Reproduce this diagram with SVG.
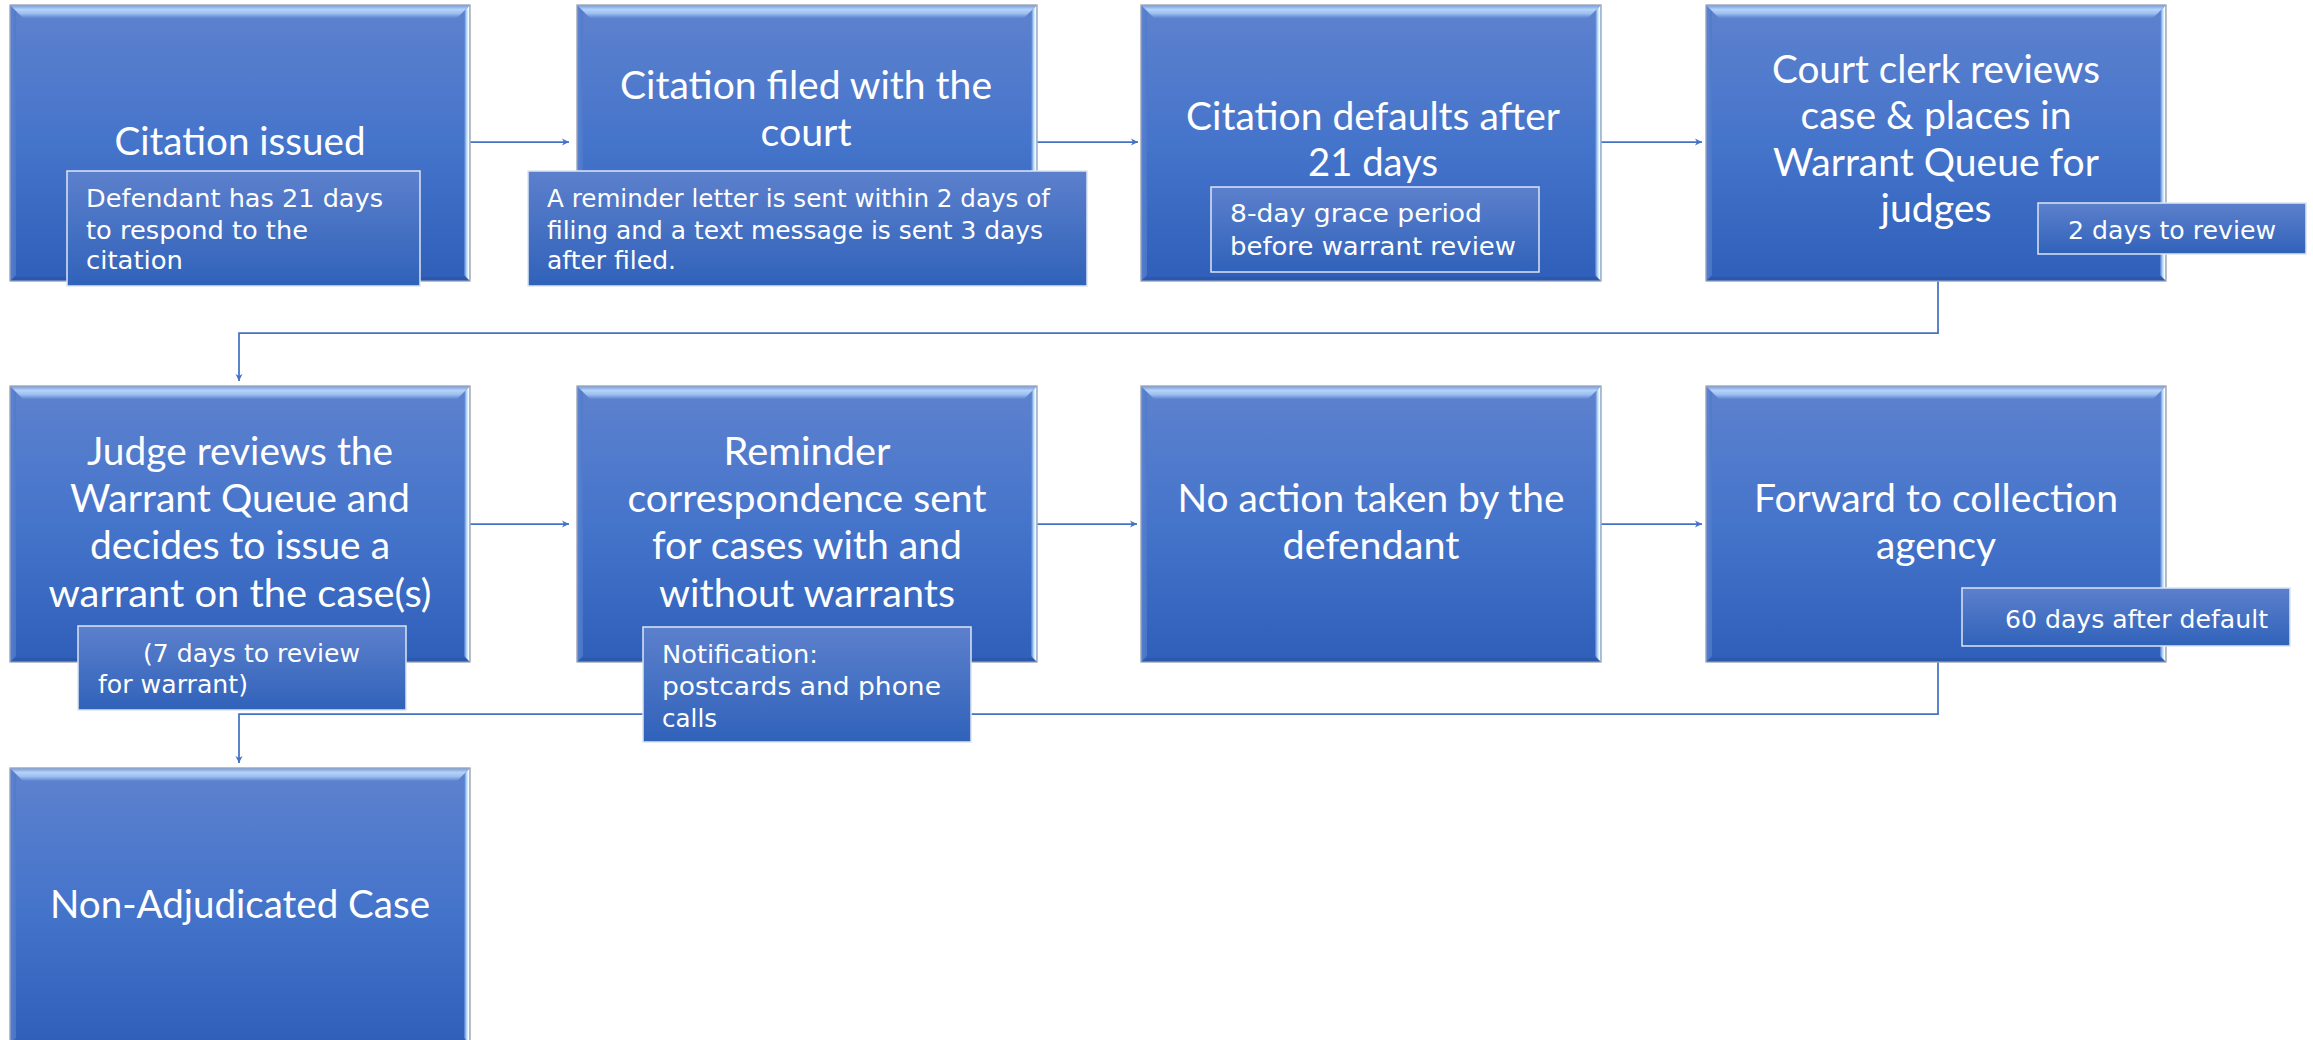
<svg xmlns="http://www.w3.org/2000/svg" xmlns:xlink="http://www.w3.org/1999/xlink" width="2313" height="1040" viewBox="0 0 2313 1040">
<style>
.main{font-family:"Lato","Open Sans",sans-serif;font-size:38px;fill:#FFFFFF;text-anchor:middle}
.sub{font-family:"DejaVu Sans","Liberation Sans",sans-serif;font-size:25px;fill:#FFFFFF}
.subbox{fill:url(#gSub);stroke:#DCE5F4;stroke-width:1.5}
.conn{fill:none;stroke:#4472C4;stroke-width:1.75}
</style>
<defs>
<linearGradient id="gFill" x1="0" y1="0" x2="0" y2="1">
<stop offset="0" stop-color="#5E82CE"/>
<stop offset="0.5" stop-color="#4574CB"/>
<stop offset="1" stop-color="#2F5FB9"/>
</linearGradient>
<linearGradient id="gTop" x1="0" y1="0" x2="0" y2="1">
<stop offset="0" stop-color="#7398DA"/>
<stop offset="0.35" stop-color="#B4D3FA"/>
<stop offset="0.65" stop-color="#9CBFF0"/>
<stop offset="1" stop-color="#5F83CF"/>
</linearGradient>
<linearGradient id="gRight" x1="0" y1="0" x2="1" y2="0">
<stop offset="0" stop-color="#4C77C7"/>
<stop offset="0.45" stop-color="#B8DBFF"/>
<stop offset="0.75" stop-color="#F2F9FF"/>
<stop offset="1" stop-color="#8AAEE4"/>
</linearGradient>
<linearGradient id="gLeft" x1="0" y1="0" x2="1" y2="0">
<stop offset="0" stop-color="#5C86D6"/>
<stop offset="1" stop-color="#5079C8"/>
</linearGradient>
<linearGradient id="gSub" x1="0" y1="0" x2="0" y2="1">
<stop offset="0" stop-color="#5C80CC"/>
<stop offset="1" stop-color="#3062BA"/>
</linearGradient>
<g id="boxShape">
<rect x="0" y="0" width="460" height="276" fill="url(#gFill)" stroke="#A3AAB8" stroke-width="1"/>
<polygon points="0,0 6,6 6,270 0,276" fill="url(#gLeft)" opacity="0.8"/>
<polygon points="460,0 460,276 454,270 454,6" fill="url(#gRight)"/>
<polygon points="0,276 460,276 454,272 6,272" fill="#2C58AC"/>
<polygon points="0,0 460,0 447,13 13,13" fill="url(#gTop)"/>
<rect x="0" y="0" width="460" height="276" fill="none" stroke="#A3AAB8" stroke-width="1"/>
</g>
<marker id="arr" markerWidth="9" markerHeight="9" refX="7" refY="4.5" orient="auto" markerUnits="userSpaceOnUse">
<path d="M0,1 L7,4.5 L0,8 L2,4.5 Z" fill="#4472C4"/>
</marker>
</defs>
<rect width="2313" height="1040" fill="#FFFFFF"/>

<g id="connectors">
<path class="conn" d="M470,142 H569" marker-end="url(#arr)"/>
<path class="conn" d="M1037,142 H1138" marker-end="url(#arr)"/>
<path class="conn" d="M1601,142 H1702" marker-end="url(#arr)"/>
<path class="conn" d="M1938,281 V333 H239 V381" marker-end="url(#arr)"/>
<path class="conn" d="M470,524 H569" marker-end="url(#arr)"/>
<path class="conn" d="M1037,524 H1137" marker-end="url(#arr)"/>
<path class="conn" d="M1601,524 H1702" marker-end="url(#arr)"/>
<path class="conn" d="M1938,662 V714 H239 V763" marker-end="url(#arr)"/>
</g>

<g id="n1">
<use xlink:href="#boxShape" x="10" y="5"/>
<text class="main" x="240" y="155" textLength="251" lengthAdjust="spacingAndGlyphs">Citation issued</text>
<rect class="subbox" x="67" y="171" width="353" height="115"/>
<text class="sub" x="86" y="207" textLength="297" lengthAdjust="spacingAndGlyphs">Defendant has 21 days</text>
<text class="sub" x="86" y="239" textLength="222" lengthAdjust="spacingAndGlyphs">to respond to the</text>
<text class="sub" x="86" y="269" textLength="97" lengthAdjust="spacingAndGlyphs">citation</text>
</g>

<g id="n2">
<use xlink:href="#boxShape" x="577" y="5"/>
<text class="main" x="806" y="99" textLength="372" lengthAdjust="spacingAndGlyphs">Citation filed with the</text>
<text class="main" x="806" y="146" textLength="91" lengthAdjust="spacingAndGlyphs">court</text>
<rect class="subbox" x="528" y="171" width="559" height="115"/>
<text class="sub" x="547" y="207" textLength="503" lengthAdjust="spacingAndGlyphs">A reminder letter is sent within 2 days of</text>
<text class="sub" x="547" y="239" textLength="496" lengthAdjust="spacingAndGlyphs">filing and a text message is sent 3 days</text>
<text class="sub" x="547" y="269" textLength="129" lengthAdjust="spacingAndGlyphs">after filed.</text>
</g>

<g id="n3">
<use xlink:href="#boxShape" x="1141" y="5"/>
<text class="main" x="1373" y="130" textLength="374" lengthAdjust="spacingAndGlyphs">Citation defaults after</text>
<text class="main" x="1373" y="176" textLength="130" lengthAdjust="spacingAndGlyphs">21 days</text>
<rect class="subbox" x="1211" y="187" width="328" height="85"/>
<text class="sub" x="1230" y="222" textLength="252" lengthAdjust="spacingAndGlyphs">8-day grace period</text>
<text class="sub" x="1230" y="255" textLength="286" lengthAdjust="spacingAndGlyphs">before warrant review</text>
</g>

<g id="n4">
<use xlink:href="#boxShape" x="1706" y="5"/>
<text class="main" x="1936" y="83" textLength="328" lengthAdjust="spacingAndGlyphs">Court clerk reviews</text>
<text class="main" x="1936" y="129" textLength="271" lengthAdjust="spacingAndGlyphs">case &amp; places in</text>
<text class="main" x="1936" y="176" textLength="326" lengthAdjust="spacingAndGlyphs">Warrant Queue for</text>
<text class="main" x="1936" y="222" textLength="111" lengthAdjust="spacingAndGlyphs">judges</text>
<rect class="subbox" x="2038" y="203" width="268" height="51"/>
<text class="sub" x="2068" y="239" textLength="208" lengthAdjust="spacingAndGlyphs">2 days to review</text>
</g>

<g id="n5">
<use xlink:href="#boxShape" x="10" y="386"/>
<text class="main" x="240" y="465" textLength="306" lengthAdjust="spacingAndGlyphs">Judge reviews the</text>
<text class="main" x="240" y="512" textLength="340" lengthAdjust="spacingAndGlyphs">Warrant Queue and</text>
<text class="main" x="240" y="559" textLength="300" lengthAdjust="spacingAndGlyphs">decides to issue a</text>
<text class="main" x="240" y="607" textLength="383" lengthAdjust="spacingAndGlyphs">warrant on the case(s)</text>
<rect class="subbox" x="78" y="626" width="328" height="84"/>
<text class="sub" x="143" y="662" textLength="217" lengthAdjust="spacingAndGlyphs">(7 days to review</text>
<text class="sub" x="98" y="693" textLength="150" lengthAdjust="spacingAndGlyphs">for warrant)</text>
</g>

<g id="n6">
<use xlink:href="#boxShape" x="577" y="386"/>
<text class="main" x="807" y="465" textLength="167" lengthAdjust="spacingAndGlyphs">Reminder</text>
<text class="main" x="807" y="512" textLength="359" lengthAdjust="spacingAndGlyphs">correspondence sent</text>
<text class="main" x="807" y="559" textLength="310" lengthAdjust="spacingAndGlyphs">for cases with and</text>
<text class="main" x="807" y="607" textLength="296" lengthAdjust="spacingAndGlyphs">without warrants</text>
<rect class="subbox" x="643" y="627" width="328" height="115"/>
<text class="sub" x="662" y="663" textLength="156" lengthAdjust="spacingAndGlyphs">Notification:</text>
<text class="sub" x="662" y="695" textLength="279" lengthAdjust="spacingAndGlyphs">postcards and phone</text>
<text class="sub" x="662" y="727" textLength="55" lengthAdjust="spacingAndGlyphs">calls</text>
</g>

<g id="n7">
<use xlink:href="#boxShape" x="1141" y="386"/>
<text class="main" x="1371" y="512" textLength="387" lengthAdjust="spacingAndGlyphs">No action taken by the</text>
<text class="main" x="1371" y="559" textLength="177" lengthAdjust="spacingAndGlyphs">defendant</text>
</g>

<g id="n8">
<use xlink:href="#boxShape" x="1706" y="386"/>
<text class="main" x="1936" y="512" textLength="364" lengthAdjust="spacingAndGlyphs">Forward to collection</text>
<text class="main" x="1936" y="559" textLength="120" lengthAdjust="spacingAndGlyphs">agency</text>
<rect class="subbox" x="1962" y="588" width="328" height="58"/>
<text class="sub" x="2005" y="628" textLength="263" lengthAdjust="spacingAndGlyphs">60 days after default</text>
</g>

<g id="n9">
<use xlink:href="#boxShape" x="10" y="768"/>
<text class="main" x="240" y="918" textLength="380" lengthAdjust="spacingAndGlyphs">Non-Adjudicated Case</text>
</g>
</svg>
